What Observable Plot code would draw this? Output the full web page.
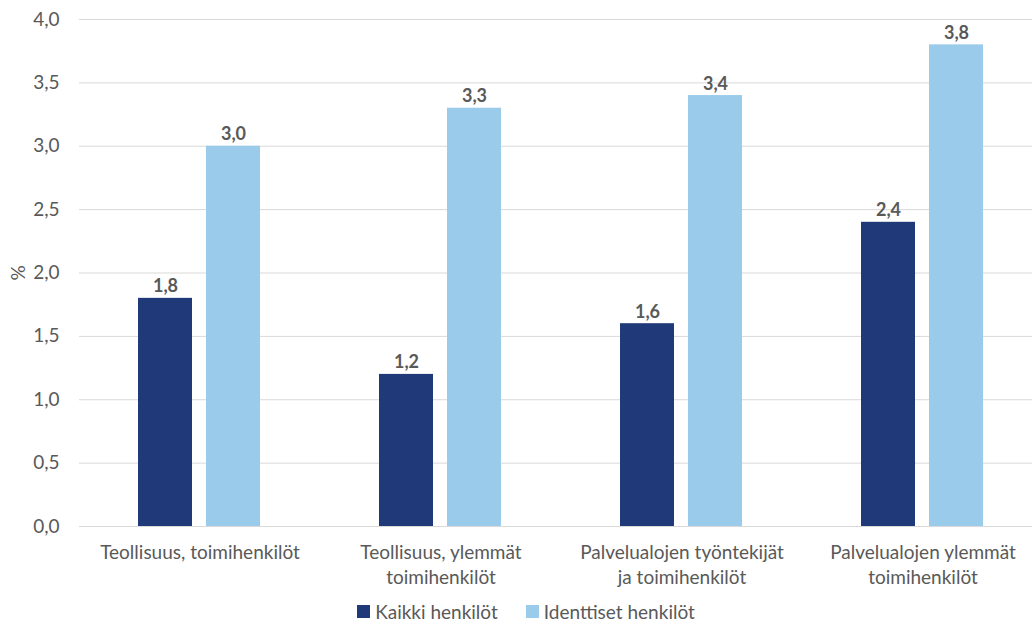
<!DOCTYPE html>
<html>
<head>
<meta charset="utf-8">
<script src="https://cdn.jsdelivr.net/npm/d3@7"></script>
<script src="https://cdn.jsdelivr.net/npm/@observablehq/plot@0.6"></script>
<style>
  html, body { margin: 0; padding: 0; background: #fff; }
  body { width: 1032px; height: 626px; overflow: hidden; font-family: Lato, "Open Sans", sans-serif; }
  #legend { display: flex; justify-content: center; gap: 28px; font-size: 19px; color: #595959; height: 30px; align-items: center; margin-left: 20px; }
  #legend .item { display: flex; align-items: center; gap: 5px; }
  #legend .sw { width: 13px; height: 13px; display: inline-block; }
</style>
</head>
<body>
<div id="chart"></div>
<div id="legend"></div>
<script>
const categories = ["Teollisuus, toimihenkilöt", "Teollisuus, ylemmät toimihenkilöt", "Palvelualojen työntekijät ja toimihenkilöt", "Palvelualojen ylemmät toimihenkilöt"];
const categoryLabels = ["Teollisuus, toimihenkilöt", "Teollisuus, ylemmät\ntoimihenkilöt", "Palvelualojen työntekijät\nja toimihenkilöt", "Palvelualojen ylemmät\ntoimihenkilöt"];
const series = ["Kaikki henkilöt", "Identtiset henkilöt"];
const colors = ["#1f3979", "#9bcbeb"];
const kaikki = [1.8, 1.2, 1.6, 2.4];
const identtiset = [3.0, 3.3, 3.4, 3.8];
const yTicks = [0, 0.5, 1, 1.5, 2, 2.5, 3, 3.5, 4];

const data = [];
categories.forEach((c, i) => {
  data.push({category: c, series: series[0], value: kaikki[i]});
  data.push({category: c, series: series[1], value: identtiset[i]});
});
const fmt = d => d.toFixed(1).replace(".", ",");
const labelOf = c => categoryLabels[categories.indexOf(c)];

const chart = Plot.plot({
  width: 1032,
  height: 596,
  marginTop: 19,
  marginBottom: 70,
  marginLeft: 78,
  marginRight: 0,
  style: {fontFamily: "Lato, 'Open Sans', sans-serif", fontSize: "19px", color: "#595959", overflow: "hidden"},
  fx: {domain: categories, range: [78, 1043], padding: 0, axis: null},
  x: {domain: series, paddingInner: 0.2, paddingOuter: 0.86, axis: null},
  y: {domain: [0, 4], axis: null},
  color: {domain: series, range: colors},
  marks: [
    Plot.ruleY(yTicks, {stroke: "#d9d9d9", strokeWidth: 1}),
    Plot.axisY({ticks: yTicks, tickSize: 0, tickPadding: 20, tickFormat: fmt, fontSize: 19, fill: "#595959", label: "%", labelAnchor: "center", labelArrow: "none", labelOffset: 68}),
    Plot.barY(data, {fx: "category", x: "series", y: "value", fill: "series"}),
    Plot.text(data, {fx: "category", x: "series", y: "value", text: d => fmt(d.value), dy: -6, lineAnchor: "bottom", fontWeight: "bold", fontSize: 18, fill: "#595959"}),
    Plot.text(categories, {fx: d => d, text: labelOf, frameAnchor: "bottom", lineAnchor: "top", dy: 15, lineHeight: 1.32, fontSize: 19, fill: "#595959"})
  ]
});
document.getElementById("chart").appendChild(chart);

const legend = document.getElementById("legend");
series.forEach((s, i) => {
  const item = document.createElement("div");
  item.className = "item";
  const sw = document.createElement("span");
  sw.className = "sw";
  sw.style.background = colors[i];
  const t = document.createElement("span");
  t.textContent = s;
  item.appendChild(sw);
  item.appendChild(t);
  legend.appendChild(item);
});
</script>
</body>
</html>
